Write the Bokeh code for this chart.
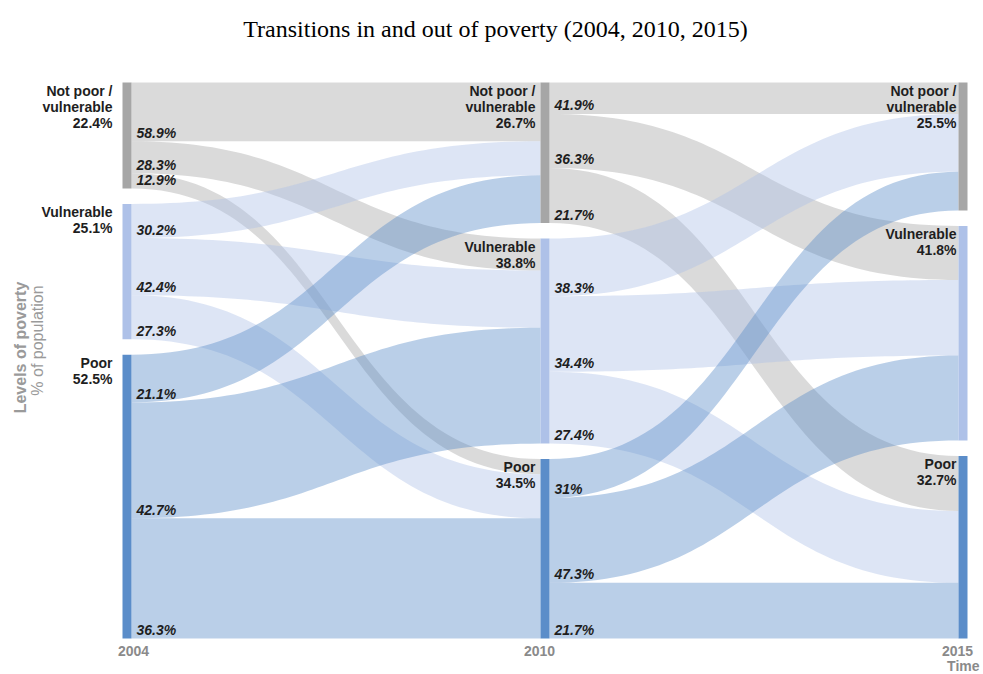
import numpy as np
from bokeh.plotting import figure
from bokeh.models import Range1d
from bokeh.core.properties import value
from bokeh.embed import file_html
from bokeh.resources import INLINE

# ---------------- data ----------------
title_text = "Transitions in and out of poverty (2004, 2010, 2015)"
years = ["2004", "2010", "2015"]
level_lines = [["Not poor /", "vulnerable"], ["Vulnerable"], ["Poor"]]

# node shares printed on the chart (% of population)
share_2004 = [22.4, 25.1, 52.5]
share_2010 = [26.7, 38.8, 34.5]
share_2015 = [25.5, 41.8, 32.7]

# transition percentages printed on the chart (row = origin level, col = destination level)
pct_2004_2010 = [[58.9, 28.3, 12.9],
                 [30.2, 42.4, 27.3],
                 [21.1, 42.7, 36.3]]
pct_2010_2015 = [[41.9, 36.3, 21.7],
                 [38.3, 34.4, 27.4],
                 [31.0, 47.3, 21.7]]

# band thicknesses as drawn in the picture (% of population)
band_2004_2010 = [[11.2, 6.1, 2.9],
                  [6.5, 10.9, 8.4],
                  [9.1, 22.1, 22.9]]
band_2010_2015 = [[6.0, 10.3, 10.5],
                  [11.0, 14.4, 13.7],
                  [7.4, 16.2, 10.6]]

# ---------------- layout constants ----------------
W, H = 983, 674
X0, DX = 122.0, 418.0        # canvas x of first bar, px per column
Y0, S = 82.0, 5.245          # canvas y of top of bars, px per % unit
GAP = 2.95                   # gap between nodes (units)
BW = 9.0 / DX                # bar width in column units

node_colors = ["#a6a6a6", "#aec1e8", "#5b8dc9"]
FONT = value("Liberation Sans")

def px_x(px):
    return px / DX

def px_y(px):
    return px / S

p = figure(width=W, height=H,
           x_range=Range1d(-X0 / DX, (W - X0) / DX),
           y_range=Range1d((H - Y0) / S, -Y0 / S),
           output_backend="svg", toolbar_location=None, min_border=0,
           x_axis_location=None, y_axis_location=None, title=None)
p.grid.visible = False
p.outline_line_color = None
p.background_fill_color = "white"
p.border_fill_color = "white"

bands = [np.array(band_2004_2010), np.array(band_2010_2015)]
pcts = [pct_2004_2010, pct_2010_2015]
shares = [share_2004, share_2010, share_2015]

sizes = [bands[0].sum(axis=1), bands[0].sum(axis=0), bands[1].sum(axis=0)]
tops = []
for c in range(3):
    t, acc = [], 0.0
    for i in range(3):
        t.append(acc)
        acc += sizes[c][i] + GAP
    tops.append(t)

# ---------------- flows ----------------
tt = np.linspace(0, 1, 60)
b0 = (1 - tt) ** 3 + 3 * (1 - tt) ** 2 * tt
b1 = 1 - b0

def curve(xa, xb, ya, yb):
    xm = (xa + xb) / 2
    x = (1 - tt) ** 3 * xa + 3 * (1 - tt) ** 2 * tt * xm + 3 * (1 - tt) * tt ** 2 * xm + tt ** 3 * xb
    y = b0 * ya + b1 * yb
    return x, y

xs, ys, cols = [], [], []
lab_x, lab_y, lab_t = [], [], []
for s in range(2):
    B = bands[s]
    xa, xb = s + BW, s + 1
    for i in range(3):
        for j in range(3):
            st = tops[s][i] + B[i, :j].sum()
            sb = st + B[i, j]
            et = tops[s + 1][j] + B[:i, j].sum()
            eb = et + B[i, j]
            x1, y1 = curve(xa, xb, st, et)
            x2, y2 = curve(xa, xb, sb, eb)
            xs.append(list(x1) + list(x2[::-1]))
            ys.append(list(y1) + list(y2[::-1]))
            cols.append(node_colors[i])
            lab_x.append(xa + px_x(5))
            lab_y.append(sb - px_y(0.5))
            lab_t.append(f"{pcts[s][i][j]:g}%")

p.patches(xs, ys, fill_color=cols, fill_alpha=0.42, line_color=None)

# ---------------- node bars ----------------
ql, qr, qt, qb, qc = [], [], [], [], []
for c in range(3):
    for i in range(3):
        ql.append(c); qr.append(c + BW)
        qt.append(tops[c][i]); qb.append(tops[c][i] + sizes[c][i])
        qc.append(node_colors[i])
p.quad(left=ql, right=qr, top=qt, bottom=qb, fill_color=qc, line_color=None)

# ---------------- flow labels ----------------
p.text(lab_x, lab_y, text=lab_t, text_align="left", text_baseline="bottom",
       text_font=FONT, text_font_style="bold italic", text_font_size="14px",
       text_color="#1e1e1e")

# ---------------- node labels ----------------
label_gap = [10, 5, 2]
nx, ny, nt = [], [], []
for c in range(3):
    for i in range(3):
        lines = level_lines[i] + [f"{shares[c][i]:g}%"]
        for k, ln in enumerate(lines):
            nx.append(c - px_x(label_gap[c]))
            ny.append(tops[c][i] + px_y(8 + 16 * k))
            nt.append(ln)
p.text(nx, ny, text=nt, text_align="right", text_baseline="middle",
       text_font=FONT, text_font_style="bold", text_font_size="14px",
       text_color="#1e1e1e")

# ---------------- year labels / axis titles ----------------
year_off = [11, -1, -1]
p.text([c + px_x(year_off[c]) for c in range(3)], [px_y(650 - Y0)] * 3, text=years,
       text_align="center", text_baseline="middle", text_font=FONT,
       text_font_style="bold", text_font_size="14px", text_color="#8a8a8a")
p.text([px_x(979 - X0)], [px_y(665 - Y0)], text=["Time"], text_align="right",
       text_baseline="middle", text_font=FONT, text_font_style="bold",
       text_font_size="14px", text_color="#8a8a8a")
p.text([px_x(20 - X0)], [px_y(347 - Y0)], text=["Levels of poverty"], angle=np.pi / 2,
       text_align="center", text_baseline="middle", text_font=FONT,
       text_font_style="bold", text_font_size="16px", text_color="#9a9a9a")
p.text([px_x(37 - X0)], [px_y(340 - Y0)], text=["% of population"], angle=np.pi / 2,
       text_align="center", text_baseline="middle", text_font=FONT,
       text_font_style="normal", text_font_size="16px", text_color="#9a9a9a")

# ---------------- title ----------------
p.text([px_x(495 - X0)], [px_y(28 - Y0)], text=[title_text], text_align="center",
       text_baseline="middle", text_font=value("Liberation Serif"),
       text_font_size="24px", text_color="#000000")

open("out.html", "w").write(file_html(p, INLINE))
